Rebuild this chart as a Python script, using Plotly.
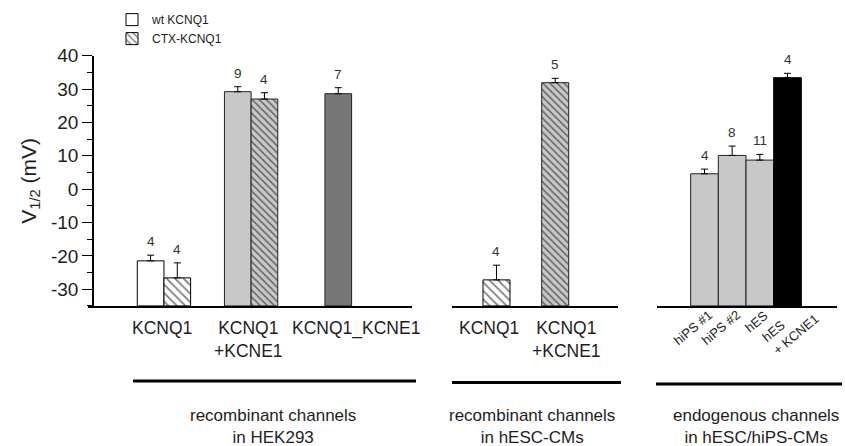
import plotly.graph_objects as go

# ---------------- data ----------------
# Recombinant channels in HEK293
HEK_GROUPS = ["KCNQ1", "KCNQ1+KCNE1", "KCNQ1_KCNE1"]
HEK_LABELS = ["KCNQ1", "KCNQ1<br>+KCNE1", "KCNQ1_KCNE1"]
HEK_WT_V = [-21.5, 29.2]          # wt KCNQ1: alone, +KCNE1
HEK_WT_ERR = [1.7, 1.5]
HEK_WT_N = [4, 9]
HEK_CTX_V = [-26.6, 27.0]         # CTX-KCNQ1: alone, +KCNE1
HEK_CTX_ERR = [4.5, 1.9]
HEK_CTX_N = [4, 4]
HEK_FUSION_V = [28.6]             # KCNQ1_KCNE1 fusion
HEK_FUSION_ERR = [1.8]
HEK_FUSION_N = [7]

# Recombinant channels in hESC-CMs (CTX-KCNQ1)
ESC_GROUPS = ["KCNQ1", "KCNQ1+KCNE1"]
ESC_LABELS = ["KCNQ1", "KCNQ1<br>+KCNE1"]
ESC_CTX_V = [-27.2, 31.9]
ESC_CTX_ERR = [4.4, 1.3]
ESC_CTX_N = [4, 5]

# Endogenous channels in hESC/hiPS-CMs
ENDO_GROUPS = ["hiPS #1", "hiPS #2", "hES", "hES + KCNE1"]
ENDO_LABELS = ["hiPS #1", "hiPS #2", "hES", "hES<br>+ KCNE1"]
ENDO_V = [4.6, 10.1, 8.7, 33.4]
ENDO_ERR = [1.4, 2.8, 1.7, 1.3]
ENDO_N = [4, 8, 11, 4]

SECTION_TITLES = ["recombinant channels<br>in HEK293",
                  "recombinant channels<br>in hESC-CMs",
                  "endogenous channels<br>in hESC/hiPS-CMs"]

Y_BASE = -35
Y_TOP = 40
Y_TICKS = list(range(-30, 41, 10))
Y_TICKTEXT = [str(t) for t in Y_TICKS]   # plain hyphen minus signs

# ---------------- layout geometry (pixels) ----------------
W, H = 845, 446
FONT = "Liberation Sans, Arial, Helvetica, sans-serif"
TXT = "#1e1e1e"
LIGHT = "#c8c8c8"
DARK = "#777777"


def px_x(p):
    return p / W


def px_y(p):
    return 1 - p / H


Y_DOMAIN = [px_y(302.7), px_y(46.7)]
# panel domains and category-axis ranges
P1_DOM, P1_RANGE, P1_W = [px_x(88), px_x(412)], [-0.8715, 2.846], 0.306
P2_DOM, P2_RANGE, P2_W = [px_x(451.7), px_x(618)], [-0.763, 2.070], 0.46
P3_DOM, P3_RANGE, P3_W = [px_x(657), px_x(837)], [-1.717, 4.789], 1.0
P1_LABEL_SHIFT = [-2, -3, 18]
P2_LABEL_SHIFT = [-7, 11]
# (xshift, yshift) of the slanted labels under panel 3
P3_LABEL_SHIFT = [(14, 2), (14, 2), (14, 1), (37, 11)]

fig = go.Figure()
annotations = []


def add_bars(name, cats, all_cats, vals, errs, ns, xaxis, offset, width,
             color, line_color="black", pattern=None, showlegend=False):
    fig.add_trace(go.Bar(
        name=name, x=cats, y=[v - Y_BASE for v in vals], base=Y_BASE,
        xaxis=xaxis, yaxis="y", offset=offset, width=width,
        marker=dict(color=color, line=dict(color=line_color, width=1),
                    pattern=pattern or {}),
        error_y=dict(type="data", symmetric=False, array=errs,
                     arrayminus=[0] * len(errs), color="black",
                     thickness=1, width=3.5),
        showlegend=showlegend,
    ))
    for c, v, e, n in zip(cats, vals, errs, ns):
        annotations.append(dict(
            x=all_cats.index(c) + offset + width / 2, y=v + e,
            xref=xaxis, yref="y", text=str(n), showarrow=False,
            xanchor="center", yanchor="bottom", yshift=4,
            font=dict(family=FONT, size=13.5, color="#333333")))


hatch_white = dict(shape="\\", bgcolor="white", fgcolor="black",
                   size=6, solidity=0.3)
hatch_gray = dict(shape="\\", bgcolor=LIGHT, fgcolor="black",
                  size=5, solidity=0.3)

# Panel 1: HEK293
add_bars("wt KCNQ1", HEK_GROUPS[:1], HEK_GROUPS, HEK_WT_V[:1], HEK_WT_ERR[:1],
         HEK_WT_N[:1], "x", -P1_W, P1_W, "white", showlegend=True)
add_bars("CTX-KCNQ1", HEK_GROUPS[:1], HEK_GROUPS, HEK_CTX_V[:1],
         HEK_CTX_ERR[:1], HEK_CTX_N[:1], "x", 0, P1_W, "white",
         pattern=hatch_white, showlegend=True)
add_bars("wt KCNQ1 + KCNE1", HEK_GROUPS[1:2], HEK_GROUPS, HEK_WT_V[1:],
         HEK_WT_ERR[1:], HEK_WT_N[1:], "x", -P1_W, P1_W, LIGHT,
         line_color="#222")
add_bars("CTX-KCNQ1 + KCNE1", HEK_GROUPS[1:2], HEK_GROUPS, HEK_CTX_V[1:],
         HEK_CTX_ERR[1:], HEK_CTX_N[1:], "x", 0, P1_W, LIGHT,
         line_color="#222", pattern=hatch_gray)
add_bars("KCNQ1_KCNE1", HEK_GROUPS[2:], HEK_GROUPS, HEK_FUSION_V,
         HEK_FUSION_ERR, HEK_FUSION_N, "x", -P1_W / 2, P1_W, DARK,
         line_color="#222")

# Panel 2: hESC-CMs
add_bars("CTX-KCNQ1 (hESC-CM)", ESC_GROUPS[:1], ESC_GROUPS, ESC_CTX_V[:1],
         ESC_CTX_ERR[:1], ESC_CTX_N[:1], "x2", -P2_W / 2, P2_W, "white",
         pattern=hatch_white)
add_bars("CTX-KCNQ1 + KCNE1 (hESC-CM)", ESC_GROUPS[1:], ESC_GROUPS,
         ESC_CTX_V[1:], ESC_CTX_ERR[1:], ESC_CTX_N[1:], "x2", -P2_W / 2,
         P2_W, LIGHT, line_color="#222", pattern=hatch_gray)

# Panel 3: endogenous channels
add_bars("endogenous", ENDO_GROUPS[:3], ENDO_GROUPS, ENDO_V[:3], ENDO_ERR[:3],
         ENDO_N[:3], "x3", -P3_W / 2, P3_W, LIGHT, line_color="#222")
add_bars("endogenous + KCNE1", ENDO_GROUPS[3:], ENDO_GROUPS, ENDO_V[3:],
         ENDO_ERR[3:], ENDO_N[3:], "x3", -P3_W / 2, P3_W, "black")

# category labels under panels 1 and 2
for axis, labels, shifts in (("x", HEK_LABELS, P1_LABEL_SHIFT),
                             ("x2", ESC_LABELS, P2_LABEL_SHIFT)):
    for i, (lab, sh) in enumerate(zip(labels, shifts)):
        annotations.append(dict(
            x=i, y=Y_BASE, xref=axis, yref="y", text=lab, showarrow=False,
            xshift=sh, xanchor="center", yanchor="top", yshift=-10,
            font=dict(family=FONT, size=17.5, color=TXT)))

# slanted labels under panel 3
for i, (lab, (sx, sy)) in enumerate(zip(ENDO_LABELS, P3_LABEL_SHIFT)):
    annotations.append(dict(
        x=i, y=Y_BASE, xref="x3", yref="y", text=lab, showarrow=False,
        textangle=-40, align="left", xanchor="right", yanchor="top",
        xshift=sx, yshift=sy,
        font=dict(family=FONT, size=13, color=TXT)))

# section brackets and titles
brackets = [(133, 416, 379.5), (452, 621, 381), (656, 842, 382.5)]
title_cx = [273, 532, 756]
shapes = []
for (x0, x1, yb), cx, t in zip(brackets, title_cx, SECTION_TITLES):
    shapes.append(dict(type="line", xref="paper", yref="paper",
                       x0=px_x(x0), x1=px_x(x1), y0=px_y(yb), y1=px_y(yb),
                       line=dict(color="black", width=3)))
    annotations.append(dict(
        x=px_x(cx), y=px_y(403), xref="paper", yref="paper", text=t,
        showarrow=False, xanchor="center", yanchor="top", align="center",
        font=dict(family=FONT, size=17, color=TXT)))

common_x = dict(showgrid=False, zeroline=False, showline=True,
                linecolor="black", linewidth=1.5, ticks="", fixedrange=True,
                anchor="y", type="category", showticklabels=False)

fig.update_layout(
    width=W, height=H,
    margin=dict(l=0, r=0, t=0, b=0),
    paper_bgcolor="white", plot_bgcolor="white",
    barmode="overlay",
    font=dict(family=FONT, color=TXT),
    xaxis=dict(common_x, domain=P1_DOM, range=P1_RANGE,
               categoryorder="array", categoryarray=HEK_GROUPS),
    xaxis2=dict(common_x, domain=P2_DOM, range=P2_RANGE,
                categoryorder="array", categoryarray=ESC_GROUPS),
    xaxis3=dict(common_x, domain=P3_DOM, range=P3_RANGE,
                categoryorder="array", categoryarray=ENDO_GROUPS),
    yaxis=dict(domain=Y_DOMAIN, range=[Y_BASE, Y_TOP], anchor="free",
               position=px_x(93), showgrid=False, zeroline=False,
               showline=True, linecolor="black", linewidth=1.5,
               ticks="outside", ticklen=10, tickwidth=1.2, tickcolor="black",
               tickmode="array", tickvals=Y_TICKS, ticktext=Y_TICKTEXT,
               tickfont=dict(family=FONT, size=19, color=TXT),
               minor=dict(dtick=5, tick0=0, ticks="outside", ticklen=5,
                          tickwidth=1.2, tickcolor="black"),
               title=dict(text="V<sub>1/2</sub> (mV)", standoff=8,
                          font=dict(family=FONT, size=21, color=TXT)),
               fixedrange=True),
    legend=dict(x=px_x(112), y=1 + 5 / H, xanchor="left", yanchor="top",
                font=dict(family=FONT, size=12, color=TXT),
                bgcolor="rgba(0,0,0,0)", tracegroupgap=0, itemwidth=30),
    annotations=annotations,
    shapes=shapes,
)

fig.write_html("out.html")
